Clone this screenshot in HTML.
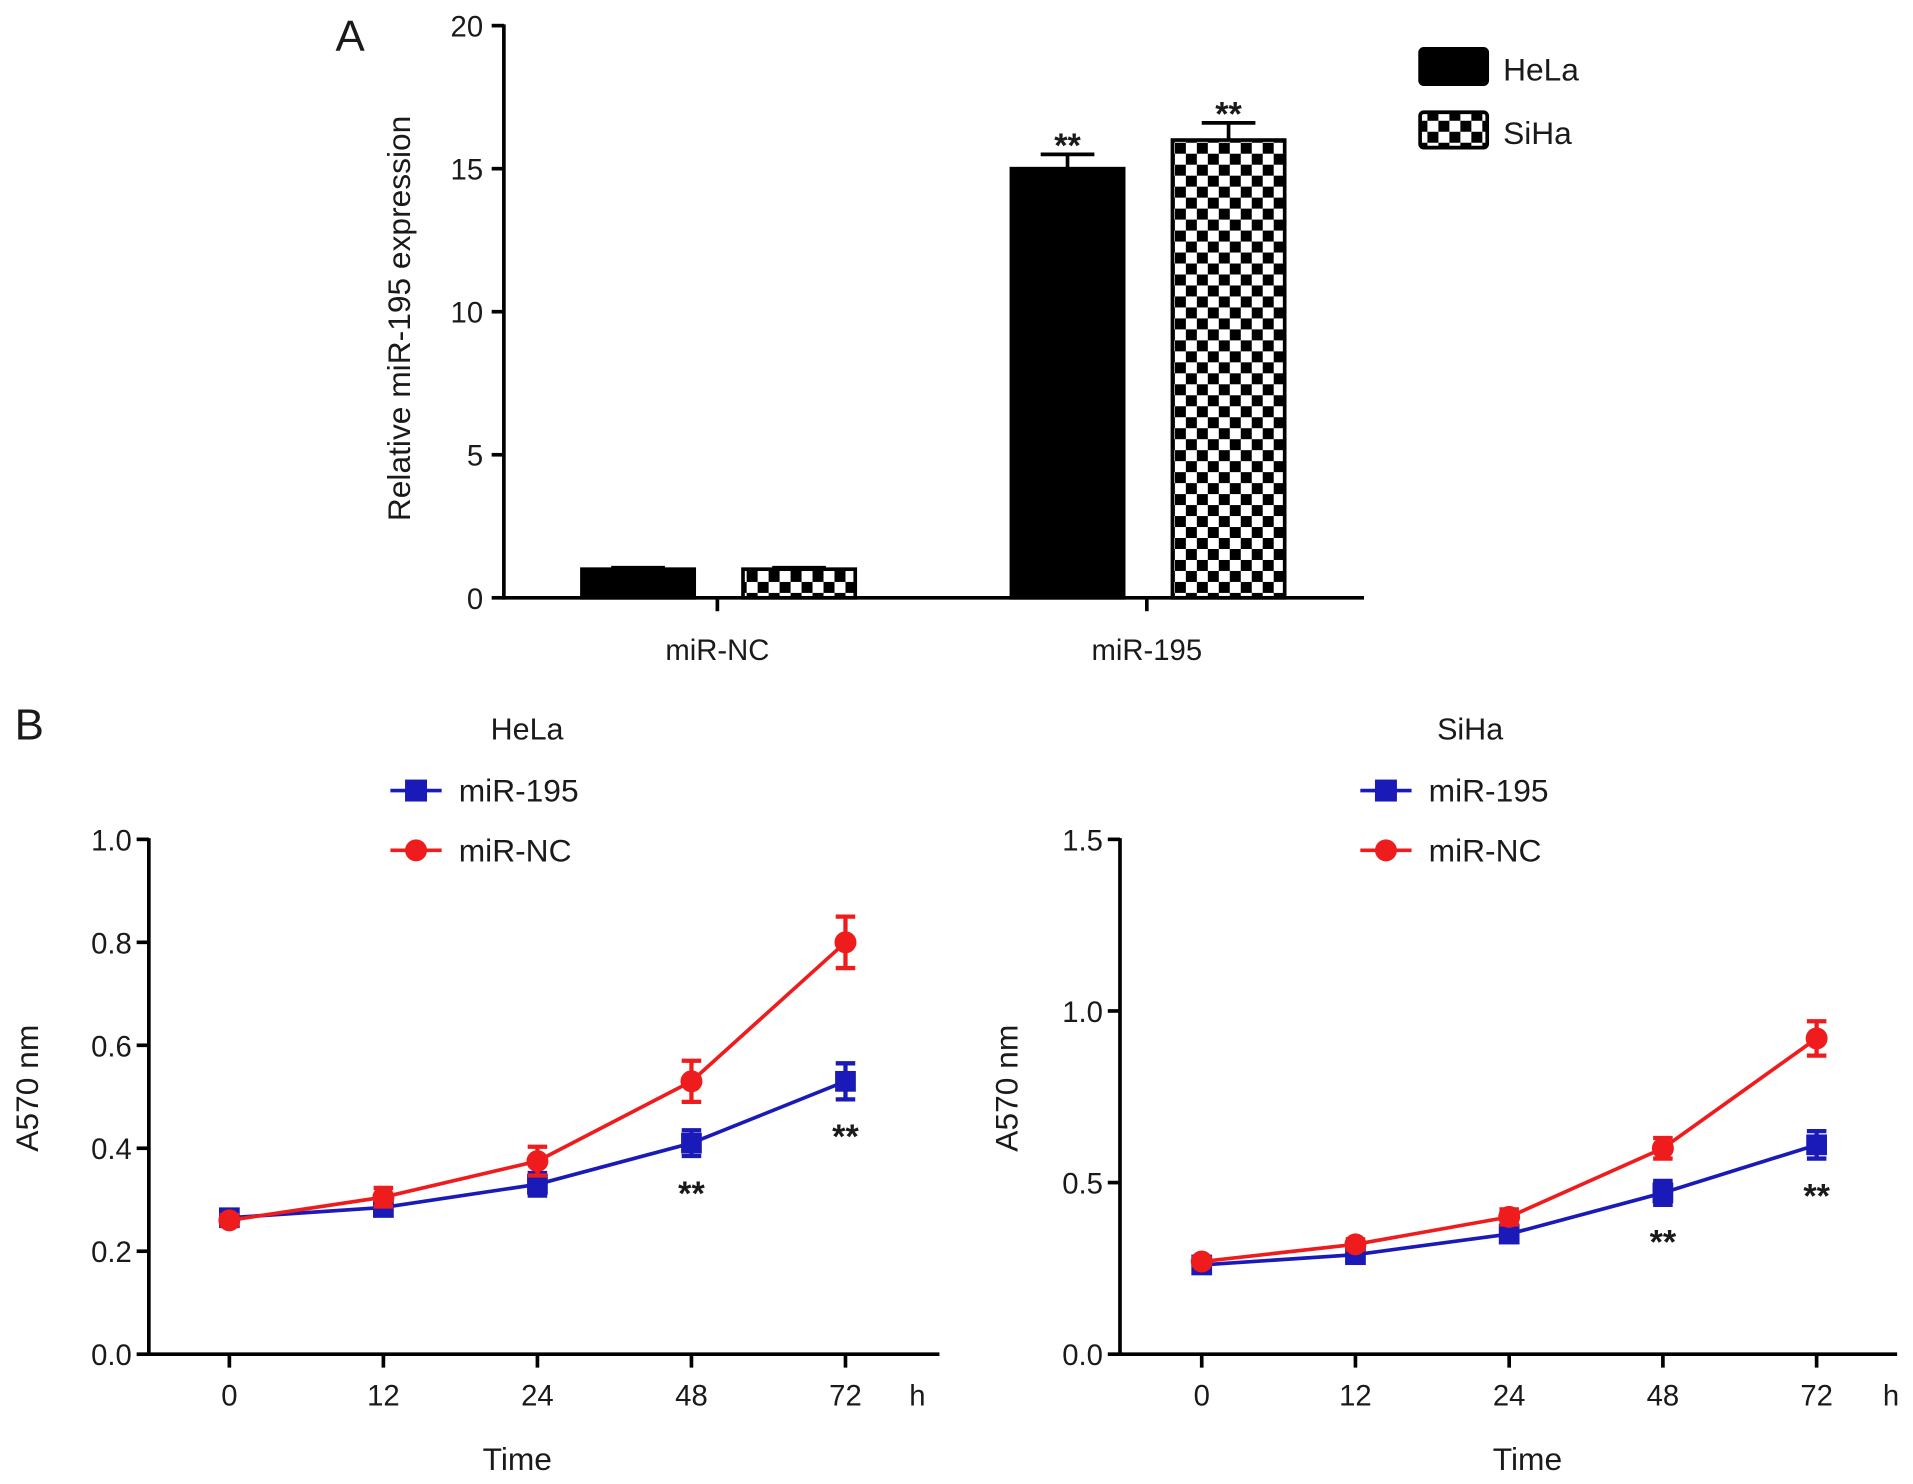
<!DOCTYPE html>
<html><head><meta charset="utf-8"><style>
html,body{margin:0;padding:0;background:#fff}
svg{display:block;font-family:"Liberation Sans",Arial,sans-serif}
</style></head><body>
<svg id="fig" width="1913" height="1484" viewBox="0 0 1568 1216.4" preserveAspectRatio="none" xmlns="http://www.w3.org/2000/svg">
<defs>
<pattern id="chk" width="18" height="18" patternUnits="userSpaceOnUse">
<rect width="18" height="18" fill="#fff"/><rect width="9" height="9" fill="#000"/><rect x="9" y="9" width="9" height="9" fill="#000"/>
</pattern>
</defs>
<g id="root"></g>
</svg>
<script>
// Panel A data
const barCategories = ["miR-NC", "miR-195"];
const barHeLa = [1.0, 15.0];
const barHeLaErr = [0.05, 0.5];
const barSiHa = [1.0, 16.0];
const barSiHaErr = [0.05, 0.6];
const barTicks = [0, 5, 10, 15, 20];
// Panel B data
const timeLabels = ["0", "12", "24", "48", "72"];
const helaMiR195 = [0.265, 0.285, 0.33, 0.41, 0.53];
const helaMiR195Err = [0.012, 0.015, 0.022, 0.025, 0.035];
const helaMiRNC = [0.26, 0.305, 0.375, 0.53, 0.80];
const helaMiRNCErr = [0.01, 0.018, 0.028, 0.04, 0.05];
const helaTicks = [0.0, 0.2, 0.4, 0.6, 0.8, 1.0];
const sihaMiR195 = [0.26, 0.29, 0.35, 0.47, 0.61];
const sihaMiR195Err = [0.01, 0.015, 0.02, 0.035, 0.04];
const sihaMiRNC = [0.27, 0.32, 0.40, 0.60, 0.92];
const sihaMiRNCErr = [0.01, 0.015, 0.022, 0.03, 0.05];
const sihaTicks = [0.0, 0.5, 1.0, 1.5];

const NS = "http://www.w3.org/2000/svg";
const root = document.getElementById("root");
function el(tag, attrs, parent, text) {
  const e = document.createElementNS(NS, tag);
  for (const k in attrs) e.setAttribute(k, attrs[k]);
  if (text !== undefined) e.textContent = text;
  (parent || root).appendChild(e);
  return e;
}
function txt(x, y, s, size, anchor, parent, extra) {
  const a = {x: x, y: y, "font-size": size, "text-anchor": anchor || "middle", fill: "#1a1a1a"};
  if (extra) for (const k in extra) a[k] = extra[k];
  return el("text", a, parent, s);
}

// ---------- Panel A ----------
const gA = el("g", {});


const ax0 = 413, ay0 = 490, ayTop = 21, axEnd = 1118, aMax = 20;
const yA = v => ay0 - (v / aMax) * (ay0 - ayTop);
const catX = [588, 940];
const pa = txt(287, 42, "A", 36, "middle", gA);


el("line", {x1: ax0, y1: ayTop - 1, x2: ax0, y2: ay0 + 1.5, stroke: "#000", "stroke-width": 3}, gA);
el("line", {x1: ax0, y1: ay0, x2: axEnd, y2: ay0, stroke: "#000", "stroke-width": 3}, gA);
barTicks.forEach(t => {
  el("line", {x1: ax0 - 10, y1: yA(t), x2: ax0, y2: yA(t), stroke: "#000", "stroke-width": 3}, gA);
  const tl = txt(ax0 - 17, yA(t) + 9, String(t), 24, "end", gA);
  
  
});
const yt = txt(0, 0, "Relative miR-195 expression", 26, "middle", gA, {transform: "translate(336,261) rotate(-90)"});


barCategories.forEach((c, i) => {
  const cx = catX[i];
  el("line", {x1: cx, y1: ay0, x2: cx, y2: ay0 + 11, stroke: "#000", "stroke-width": 3}, gA);
  const cl = txt(cx, 541, c, 24, "middle", gA);
  
  
  const bw = 92;
  [[barHeLa, barHeLaErr, "#000", cx - 111], [barSiHa, barSiHaErr, "url(#chk)", cx + 21]].forEach((s, j) => {
    const v = s[0][i], e = s[1][i], bx = s[3];
    const ey = yA(v + e);
    el("line", {x1: bx + bw / 2, y1: yA(v), x2: bx + bw / 2, y2: ey, stroke: "#000", "stroke-width": 3}, gA);
    el("line", {x1: bx + bw / 2 - 22, y1: ey, x2: bx + bw / 2 + 22, y2: ey, stroke: "#000", "stroke-width": 3}, gA);
    const r = el("rect", {x: bx, y: yA(v), width: bw, height: ay0 - yA(v), fill: s[2], stroke: "#000", "stroke-width": 3}, gA);
    
    
    if (i === 1) {
      const st = txt(bx + bw / 2, ey + 2, "**", 28, "middle", gA, {"font-weight": "bold"});
      
      
    }
  });
});
// legend A
[["HeLa", "#000", 40], ["SiHa", "url(#chk)", 92]].forEach(l => {
  const r = el("rect", {x: 1164, y: l[2], width: 55, height: 29, rx: 3, fill: l[1], stroke: "#000", "stroke-width": 3}, gA);
  
  
  const t = txt(1232, l[2] + 26, l[0], 26, "start", gA);
  
  
});

// ---------- Panel B ----------
const pb = txt(24, 606, "B", 36, "middle");



function linePanel(cfg) {
  const g = el("g", {});
  
  
  const yTop = 688, y0 = 1110;
  const yS = v => y0 - (v / cfg.max) * (y0 - yTop);
  const xS = i => cfg.xs[0] + i * (cfg.xs[1] - cfg.xs[0]) / 4;
  const tt = txt(cfg.titleX, 606, cfg.title, 25, "middle", g);
  
  
  el("line", {x1: cfg.ax, y1: yTop - 1, x2: cfg.ax, y2: y0 + 1.5, stroke: "#000", "stroke-width": 3}, g);
  el("line", {x1: cfg.ax, y1: y0, x2: cfg.axEnd, y2: y0, stroke: "#000", "stroke-width": 3}, g);
  cfg.ticks.forEach(t => {
    el("line", {x1: cfg.ax - 10, y1: yS(t), x2: cfg.ax, y2: yS(t), stroke: "#000", "stroke-width": 3}, g);
    const tl = txt(cfg.ax - 14, yS(t) + 9, t.toFixed(1), 24, "end", g);
    
    
  });
  timeLabels.forEach((l, i) => {
    el("line", {x1: xS(i), y1: y0, x2: xS(i), y2: y0 + 11, stroke: "#000", "stroke-width": 3}, g);
    const tl = txt(xS(i), 1152, l, 24, "middle", g);
    
    
  });
  const h = txt(cfg.hX, 1152, "h", 24, "middle", g);
  
  
  const xt = txt(cfg.timeX, 1205, "Time", 26, "middle", g);
  
  
  const yl = txt(0, 0, "A570 nm", 26, "middle", g, {transform: "translate(" + cfg.ylX + ",892) rotate(-90)"});
  
  
  const series = [
    {v: cfg.b, e: cfg.be, c: "#1a1ab8", m: "sq", n: "miR-195"},
    {v: cfg.r, e: cfg.re, c: "#ee1c1c", m: "ci", n: "miR-NC"}
  ];
  series.forEach(s => {
    const pts = s.v.map((v, i) => xS(i) + "," + yS(v)).join(" ");
    const pl = el("polyline", {points: pts, fill: "none", stroke: s.c, "stroke-width": 3}, g);
    
    
    s.v.forEach((v, i) => {
      const x = xS(i), yh = yS(v + s.e[i]), yl2 = yS(v - s.e[i]);
      el("line", {x1: x, y1: yh, x2: x, y2: yl2, stroke: s.c, "stroke-width": 3.5}, g);
      el("line", {x1: x - 8, y1: yh, x2: x + 8, y2: yh, stroke: s.c, "stroke-width": 3.5}, g);
      el("line", {x1: x - 8, y1: yl2, x2: x + 8, y2: yl2, stroke: s.c, "stroke-width": 3.5}, g);
      let mk;
      if (s.m === "sq") mk = el("rect", {x: x - 8.5, y: yS(v) - 8.5, width: 17, height: 17, fill: s.c}, g);
      else mk = el("circle", {cx: x, cy: yS(v), r: 9, fill: s.c}, g);
      
      
    });
  });
  [3, 4].forEach(i => {
    const st = txt(xS(i), yS(cfg.b[i] - cfg.be[i]) + 40, "**", 28, "middle", g, {"font-weight": "bold"});
    
    
  });
  // legend
  series.forEach((s, k) => {
    const ly = 648 + k * 49;
    el("line", {x1: cfg.legX, y1: ly, x2: cfg.legX + 42, y2: ly, stroke: s.c, "stroke-width": 3}, g);
    if (s.m === "sq") el("rect", {x: cfg.legX + 12, y: ly - 9, width: 18, height: 18, fill: s.c}, g);
    else el("circle", {cx: cfg.legX + 21, cy: ly, r: 9, fill: s.c}, g);
    const lt = txt(cfg.legX + 56, ly + 9, s.n, 26, "start", g);
    
    
  });
}
linePanel({name: "hela-line-chart", title: "HeLa", titleX: 432, ax: 122, axEnd: 770, xs: [188, 693], hX: 752, timeX: 424, ylX: 31,
  max: 1.0, ticks: helaTicks, b: helaMiR195, be: helaMiR195Err, r: helaMiRNC, re: helaMiRNCErr, legX: 320});
linePanel({name: "siha-line-chart", title: "SiHa", titleX: 1205, ax: 918, axEnd: 1555, xs: [985, 1489], hX: 1550, timeX: 1252, ylX: 834,
  max: 1.5, ticks: sihaTicks, b: sihaMiR195, be: sihaMiR195Err, r: sihaMiRNC, re: sihaMiRNCErr, legX: 1115});
</script>
</body></html>
